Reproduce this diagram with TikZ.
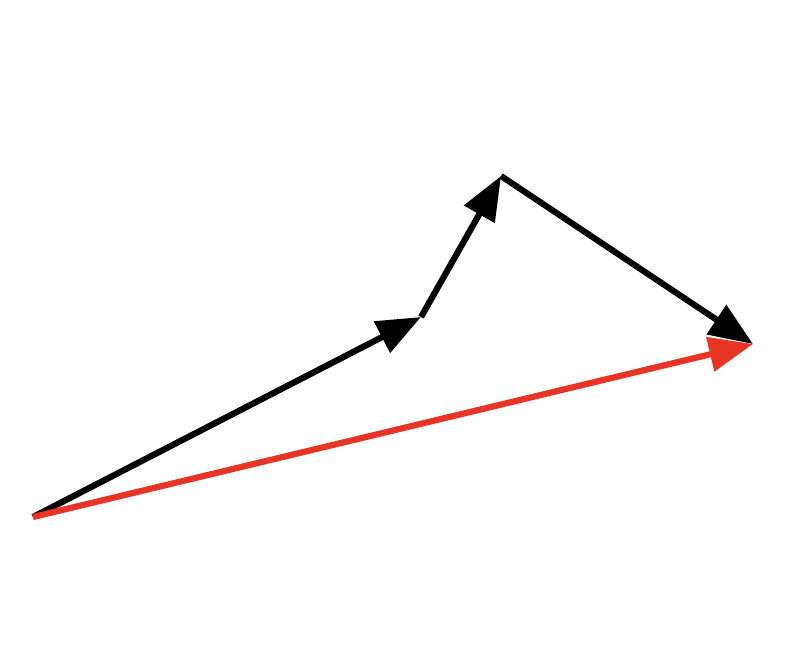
\documentclass[tikz,border=0pt]{standalone}
\usetikzlibrary{arrows.meta}
\definecolor{vred}{HTML}{E83425}
\begin{document}
\begin{tikzpicture}[x=1pt,y=-1pt,
  vec/.style={line width=6.2pt,-{Triangle[length=44pt,width=34pt]}}]
\useasboundingbox (0,0) rectangle (810,656);
\coordinate (S) at (33,517);
\coordinate (A) at (421,317);
\coordinate (B) at (501,176);
\coordinate (E) at (753,344);
\draw[vec,black] (S) -- (A);
\draw[vec,black] (A) -- (B);
\draw[vec,black] (B) -- (E);
\draw[vec,vred] (S) -- (E);
\end{tikzpicture}
\end{document}
